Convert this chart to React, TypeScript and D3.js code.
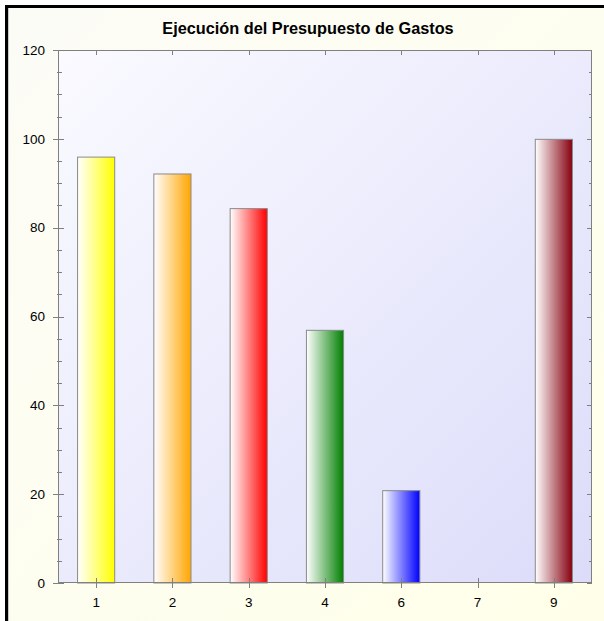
import { useRef, useEffect } from "react";
import * as d3 from "d3";

const TITLE = "Ejecución del Presupuesto de Gastos";
const CATEGORIES = ["1", "2", "3", "4", "6", "7", "9"];
const VALUES = [96.0, 92.2, 84.4, 57.0, 20.9, 0, 100.0];
const BAR_COLORS = ["#FFFF00", "#FFA500", "#FF0000", "#008000", "#0000FF", "#808080", "#85000F"];
const Y_MAX = 120;

const W = 604;
const H = 621;

export default function App() {
  const svgRef = useRef<SVGSVGElement>(null);

  useEffect(() => {
    if (!svgRef.current) return;
    const svg = d3.select(svgRef.current);
    svg.selectAll("*").remove();

    const plot = { left: 58, top: 50, right: 592, bottom: 583 };

    const x = d3
      .scaleBand<string>()
      .domain(CATEGORIES)
      .range([plot.left, plot.right])
      .paddingInner(0.5)
      .paddingOuter(0.25);
    const xc = (c: string) => (x(c) ?? 0) + x.bandwidth() / 2;

    const y = d3.scaleLinear().domain([0, Y_MAX]).range([plot.bottom, plot.top]);

    const defs = svg.append("defs");
    const bg = defs.append("linearGradient").attr("id", "bg").attr("x1", 0).attr("y1", 0).attr("x2", 1).attr("y2", 1);
    bg.append("stop").attr("offset", 0).attr("stop-color", "#FCFCF7");
    bg.append("stop").attr("offset", 1).attr("stop-color", "#FFFFE8");

    const pg = defs.append("linearGradient").attr("id", "plotbg").attr("x1", 0).attr("y1", 0).attr("x2", 1).attr("y2", 1);
    pg.append("stop").attr("offset", 0).attr("stop-color", "#FAFAFF");
    pg.append("stop").attr("offset", 1).attr("stop-color", "#DCDCFA");

    BAR_COLORS.forEach((c, i) => {
      const g = defs.append("linearGradient").attr("id", `bar${i}`).attr("x1", 0).attr("y1", 0).attr("x2", 1).attr("y2", 0);
      g.append("stop").attr("offset", 0).attr("stop-color", "#FFFFFF");
      g.append("stop").attr("offset", 1).attr("stop-color", c);
    });

    // background + frame
    svg.append("rect").attr("x", 6.5).attr("y", 6.5).attr("width", W + 20).attr("height", H + 20)
      .attr("fill", "url(#bg)").attr("stroke", "#000").attr("stroke-width", 3);
    svg.append("line").attr("x1", 8.5).attr("x2", 8.5).attr("y1", 8).attr("y2", H)
      .attr("stroke", "#C8C8C8").attr("stroke-width", 1);

    svg.append("text")
      .attr("x", 308).attr("y", 34)
      .attr("text-anchor", "middle")
      .attr("font-family", "Liberation Sans, Arial, sans-serif")
      .attr("font-size", 16.3).attr("font-weight", "bold")
      .text(TITLE);

    svg.append("rect")
      .attr("x", plot.left).attr("y", plot.top)
      .attr("width", plot.right - plot.left).attr("height", plot.bottom - plot.top)
      .attr("fill", "url(#plotbg)");

    // bars
    svg.append("g").selectAll("rect")
      .data(VALUES.map((v, i) => ({ v, i })).filter((d) => d.v > 0))
      .join("rect")
      .attr("x", (d) => (x(CATEGORIES[d.i]) ?? 0) + 0.5)
      .attr("y", (d) => y(d.v) + 0.5)
      .attr("width", x.bandwidth() - 1)
      .attr("height", (d) => y(0) - y(d.v) - 0.5)
      .attr("fill", (d) => `url(#bar${d.i})`)
      .attr("stroke", "#8A8A8A")
      .attr("stroke-width", 1);

    const axisColor = "#808080";
    const ax = svg.append("g").attr("stroke", axisColor).attr("stroke-width", 1).attr("fill", "none");

    // axis frame
    ax.append("rect")
      .attr("x", plot.left + 0.5).attr("y", plot.top + 0.5)
      .attr("width", plot.right - plot.left - 1).attr("height", plot.bottom - plot.top - 1);

    const majors = d3.range(0, Y_MAX + 1, 20);
    const minors = d3.range(0, Y_MAX + 1, 5).filter((v) => v % 20 !== 0);

    majors.forEach((v) => {
      const yy = Math.round(y(v)) + 0.5;
      ax.append("line").attr("x1", plot.left - 5).attr("x2", plot.left + 6).attr("y1", yy).attr("y2", yy);
      ax.append("line").attr("x1", plot.right - 5).attr("x2", plot.right).attr("y1", yy).attr("y2", yy);
    });
    minors.forEach((v) => {
      const yy = Math.round(y(v)) + 0.5;
      ax.append("line").attr("x1", plot.left - 1).attr("x2", plot.left + 4).attr("y1", yy).attr("y2", yy);
      ax.append("line").attr("x1", plot.right - 3).attr("x2", plot.right).attr("y1", yy).attr("y2", yy);
    });
    CATEGORIES.forEach((c) => {
      const xx = Math.round(xc(c)) + 0.5;
      ax.append("line").attr("x1", xx).attr("x2", xx).attr("y1", plot.bottom - 5).attr("y2", plot.bottom + 5);
      ax.append("line").attr("x1", xx).attr("x2", xx).attr("y1", plot.top).attr("y2", plot.top + 5);
    });

    const labels = svg.append("g")
      .attr("font-family", "Liberation Sans, Arial, sans-serif")
      .attr("font-size", 13.5).attr("fill", "#000");

    majors.forEach((v) => {
      labels.append("text")
        .attr("x", 45).attr("y", y(v))
        .attr("dy", "0.35em").attr("text-anchor", "end")
        .text(String(v));
    });
    CATEGORIES.forEach((c) => {
      labels.append("text")
        .attr("x", xc(c)).attr("y", 602)
        .attr("dy", "0.35em").attr("text-anchor", "middle")
        .text(c);
    });
  }, []);

  return (
    <svg
      ref={svgRef}
      width={W}
      height={H}
      style={{ position: "absolute", left: 0, top: 0, display: "block" }}
    />
  );
}
